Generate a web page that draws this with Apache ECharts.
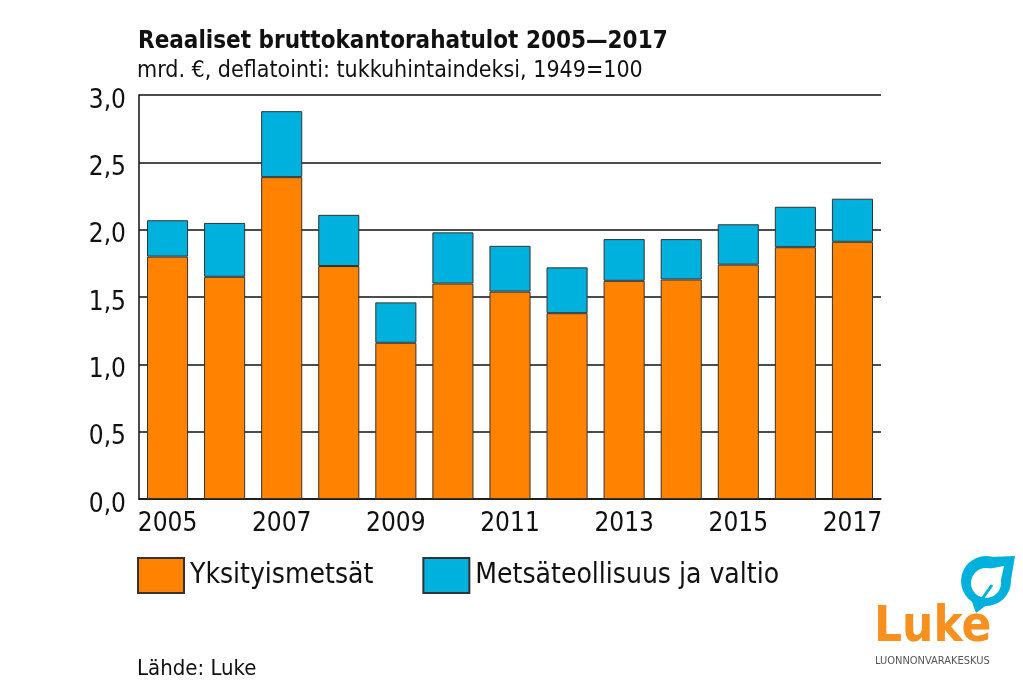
<!DOCTYPE html>
<html>
<head>
<meta charset="utf-8">
<script src="https://cdn.jsdelivr.net/npm/echarts@6/dist/echarts.min.js"></script>
<style>
html,body{margin:0;padding:0;background:#fff;}
#c{width:1023px;height:682px;}
</style>
</head>
<body>
<div id="c"></div>
<script>
const years = ['2005','2006','2007','2008','2009','2010','2011','2012','2013','2014','2015','2016','2017'];
const yksityismetsat = [1.80,1.65,2.39,1.73,1.16,1.60,1.54,1.38,1.62,1.63,1.74,1.87,1.91];
const metsateollisuus = [0.27,0.40,0.49,0.38,0.30,0.38,0.34,0.34,0.31,0.30,0.30,0.30,0.32];
const seriesNames = ['Yksityismetsät','Metsäteollisuus ja valtio'];
const titleText = 'Reaaliset bruttokantorahatulot 2005\u20142017';
const subtitleText = 'mrd. \u20ac, deflatointi: tukkuhintaindeksi, 1949=100';
const sourceText = 'Lähde: Luke';

const FONT = '"Liberation Sans Narrow","DejaVu Sans Condensed","Roboto",sans-serif';
const ORANGE = '#FF8300';
const BLUE = '#00B0DD';

const chart = echarts.init(document.getElementById('c'), null, {renderer:'canvas'});
chart.setOption({
  animation:false,
  backgroundColor:'#fff',
  textStyle:{fontFamily:FONT},
  title:[
    {text:titleText, left:138, top:30, padding:0, textStyle:{fontFamily:FONT, fontSize:24, fontWeight:'bold', color:'#111'}},
    {text:subtitleText, left:137, top:60, padding:0, textStyle:{fontFamily:FONT, fontSize:23, fontWeight:'normal', color:'#111'}},
    {text:sourceText, left:137, top:658, padding:0, textStyle:{fontFamily:FONT, fontSize:22, fontWeight:'normal', color:'#111'}}
  ],
  legend:{
    left:137, top:557, padding:0,
    itemWidth:46, itemHeight:35, itemGap:49,
    icon:'rect',
    textStyle:{fontFamily:FONT, fontSize:28, color:'#111', padding:[0,0,0,1]},
    data:seriesNames
  },
  grid:{left:139, right:142, top:95, bottom:183, containLabel:false},
  xAxis:{
    type:'category', data:years,
    axisLine:{show:true, lineStyle:{color:'#111', width:1.5}},
    axisTick:{show:false},
    axisLabel:{interval:1, fontFamily:FONT, fontSize:26, color:'#111', margin:12}
  },
  yAxis:{
    type:'value', min:0, max:3, interval:0.5,
    axisLine:{show:true, lineStyle:{color:'#111', width:1.5}},
    axisTick:{show:false},
    splitLine:{show:true, lineStyle:{color:'#111', width:1.5}},
    axisLabel:{color:'#111', margin:13,
      formatter:v=>'{a|'+v.toFixed(1).replace('.',',')+'}',
      rich:{a:{fontFamily:FONT, fontSize:26, color:'#111', padding:[12,0,0,0]}}}
  },
  series:[
    {name:seriesNames[0], type:'bar', stack:'t', data:yksityismetsat, barCategoryGap:'28%',
     itemStyle:{color:ORANGE, borderColor:'#333', borderWidth:1}},
    {name:seriesNames[1], type:'bar', stack:'t', data:metsateollisuus, barCategoryGap:'28%',
     itemStyle:{color:BLUE, borderColor:'#333', borderWidth:1}}
  ],
  graphic:{elements:[
    {type:'circle', shape:{cx:986, cy:581, r:25}, style:{fill:BLUE}},
    {type:'polygon', shape:{points:[[990,557],[1015,556],[1011,580]]}, style:{fill:BLUE}},
    {type:'polygon', shape:{points:[[971,599],[976,613],[988,604]]}, style:{fill:BLUE}},
    {type:'circle', shape:{cx:986, cy:583, r:15}, style:{fill:'#fff'}},
    {type:'polygon', shape:{points:[[988,569],[1004,566],[1000,584]]}, style:{fill:'#fff'}},
    {type:'polyline', shape:{points:[[977,606],[992,585]]}, style:{stroke:BLUE, lineWidth:3}},
    {type:'text', x:874, y:604, style:{text:'Luke', fill:'#F7901E', font:'bold 49px '+FONT}},
    {type:'text', x:875, y:656, style:{text:'LUONNONVARAKESKUS', fill:'#555', font:'11px '+FONT}}
  ]}
});
</script>
</body>
</html>
